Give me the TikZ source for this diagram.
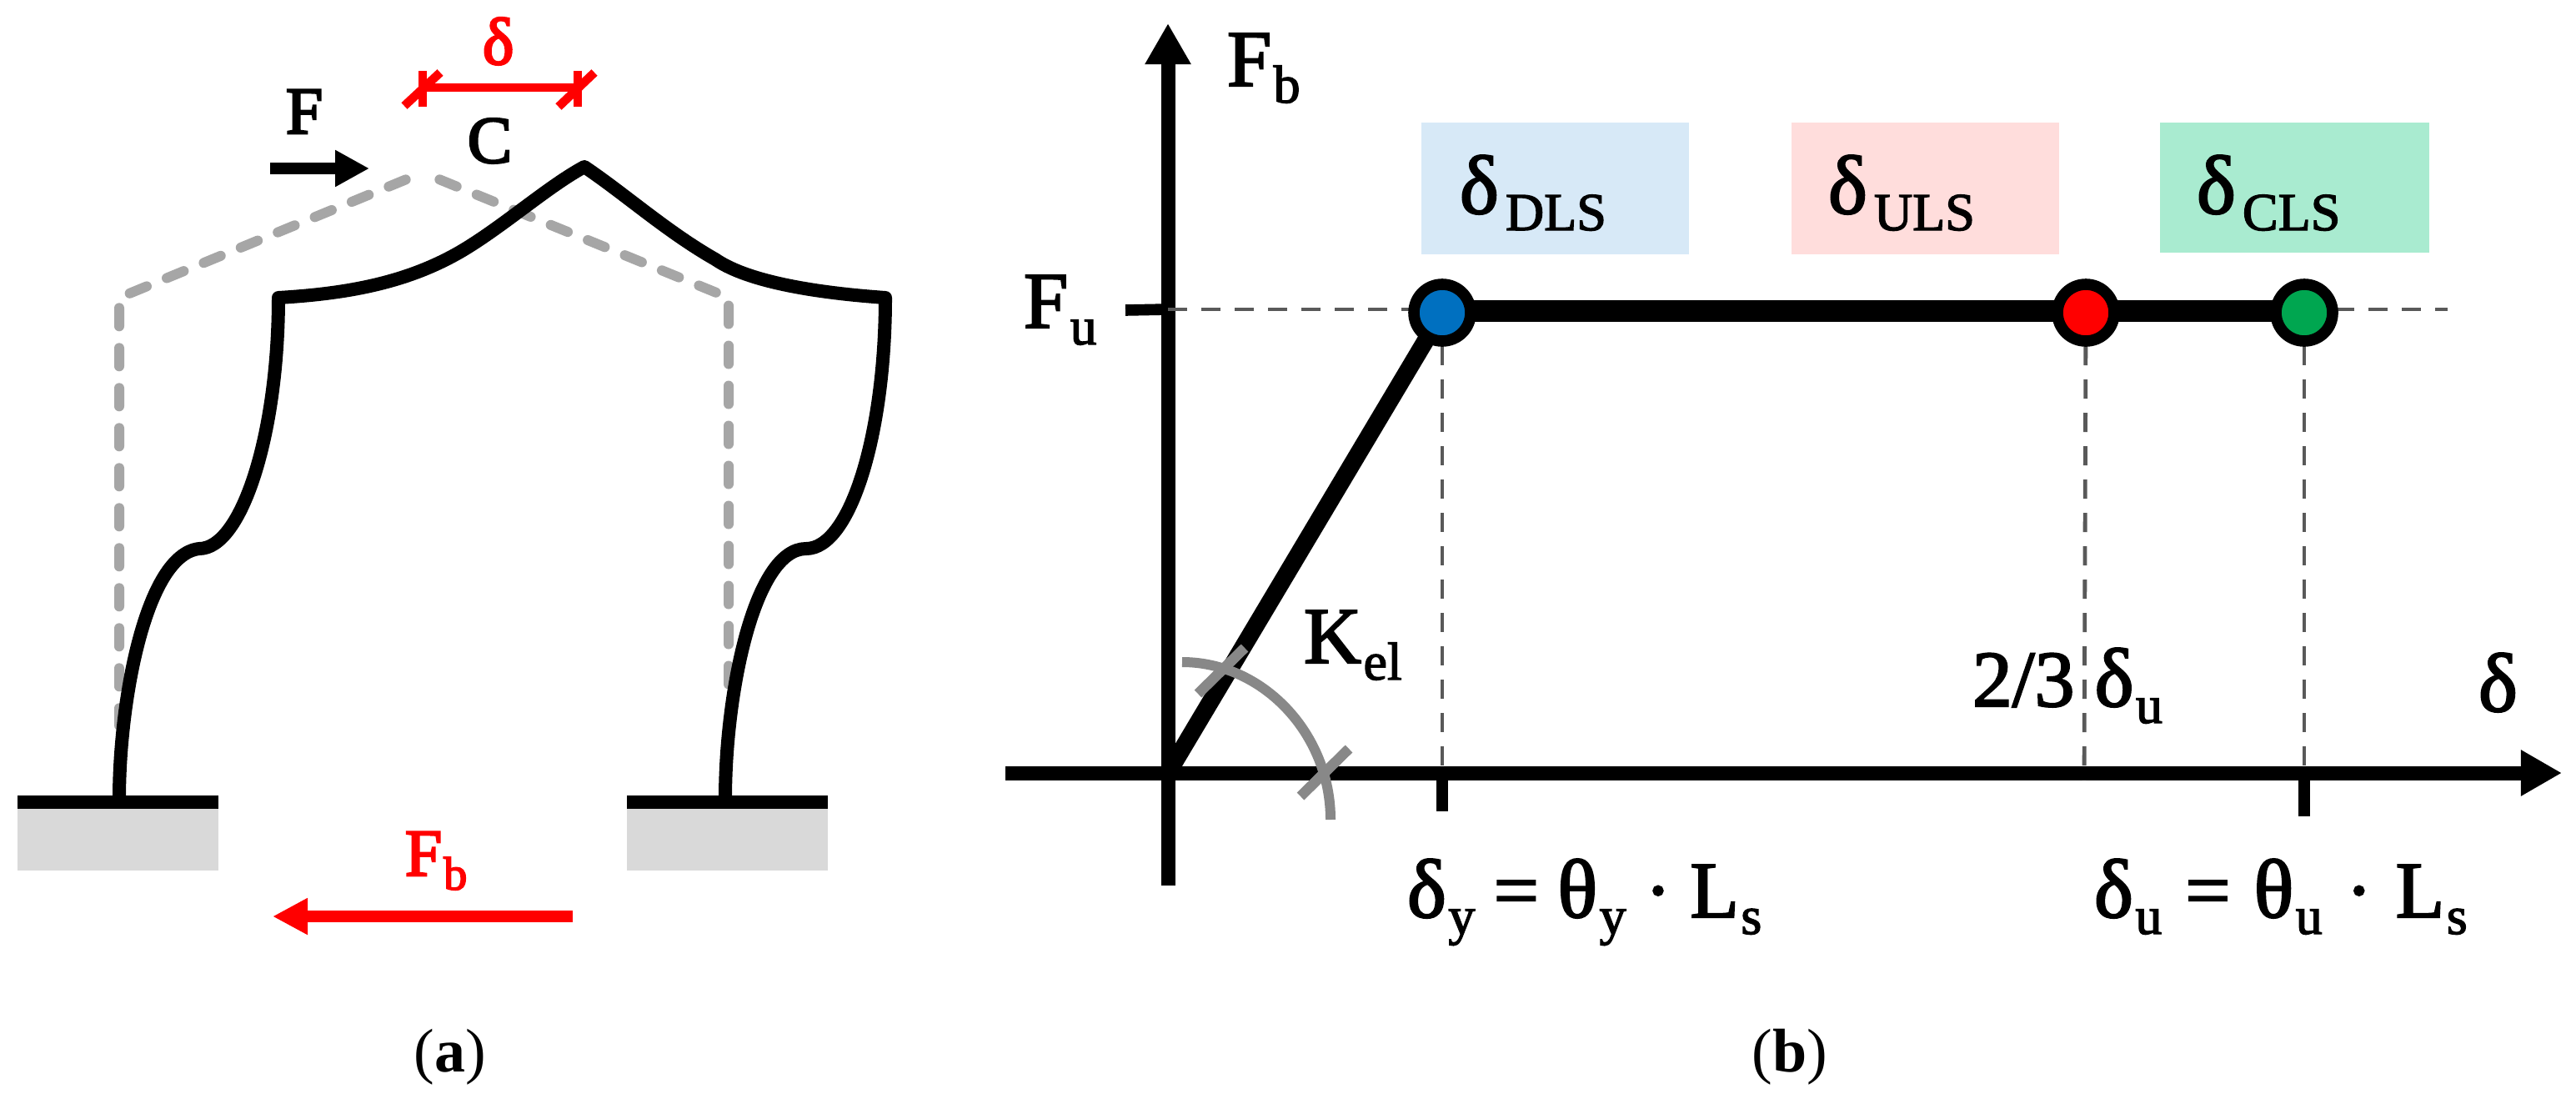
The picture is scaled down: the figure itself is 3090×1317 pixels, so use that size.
\documentclass[tikz,border=0pt]{standalone}
\usepackage{fontspec}
\setmainfont{Liberation Serif}
\newfontfamily\hvb[FakeBold=2.2]{Liberation Serif}
\newfontfamily\hva[FakeBold=3.2]{Liberation Serif}
\usetikzlibrary{arrows.meta}
\definecolor{dlsbg}{HTML}{D7E9F7}
\definecolor{ulsbg}{HTML}{FFDDDC}
\definecolor{clsbg}{HTML}{A9EBD0}
\definecolor{dlspt}{HTML}{0070C0}
\definecolor{ulspt}{HTML}{FF0000}
\definecolor{clspt}{HTML}{00A650}
\definecolor{dashgray}{HTML}{A6A6A6}
\definecolor{groundgray}{HTML}{D9D9D9}
\definecolor{arcgray}{HTML}{888888}
\definecolor{guidegray}{HTML}{595959}
% main-size letters and their subscripts, panel (b)
\newcommand{\gk}[1]{{\fontsize{25}{25}\selectfont #1}}
\newcommand{\subt}[1]{\kern0.6pt\raisebox{-5pt}{\fontsize{16}{16}\selectfont #1}}
\newcommand{\subc}[1]{\kern2pt\raisebox{-5pt}{\fontsize{16}{16}\selectfont #1}}
\newcommand{\subr}[1]{\kern0.5pt\raisebox{-4.2pt}{\fontsize{14}{14}\selectfont #1}}
\newcommand{\wsp}{\hspace{7pt}}
\newcommand{\wsq}{\hspace{5.6pt}}
\tikzset{
  x=0.25pt,y=-0.25pt,
  frameline/.style={line width=4pt,line join=round,line cap=round},
  ghost/.style={line width=3pt,draw=dashgray,dash pattern=on 5.5pt off 6.5pt,dash phase=6.5pt,line join=round,line cap=round},
  groundbar/.style={line width=4.2pt},
  groundblock/.style={fill=groundgray,draw=none},
  axisline/.style={line width=4.25pt,-{Triangle[length=12.3pt,width=13pt]}},
  guide/.style={line width=1.2pt,dash pattern=on 5.75pt off 4.25pt,draw=guidegray},
  tickmark/.style={line width=3.4pt},
  lsbox/.style={draw=none,inner sep=0pt,anchor=north west},
  lspoint/.style={circle,draw=black,line width=3.4pt,minimum size=17pt,inner sep=0pt},
  lab/.style={inner sep=0pt,anchor=base west,font=\hvb\fontsize{24}{24}\selectfont},
  laba/.style={inner sep=0pt,anchor=base west,font=\hva\fontsize{20}{20}\selectfont},
  caplab/.style={inner sep=0pt,anchor=base,font=\fontsize{18.5}{18.5}\selectfont},
  crossmark/.style={line width=3.1pt,draw=arcgray},
}
\begin{document}
\begin{tikzpicture}
\useasboundingbox (0,0) rectangle (3090,1317);
\fill[white] (0,0) rectangle (3090,1317);

% --- panel (a) ---
\coordinate (g1) at (143,870);
\coordinate (g2) at (143,357);
\coordinate (g3) at (507,207);
\coordinate (g4) at (874,357);
\coordinate (g5) at (874,830);
\draw[ghost] (g3) -- (g2) -- (g1);
\draw[ghost] (g3) -- (g4) -- (g5);

\fill[groundblock] (21,965) rectangle (262,1044);
\fill[groundblock] (752,965) rectangle (993,1044);
\coordinate (bl1) at (21,962); \coordinate (bl2) at (262,962);
\coordinate (br1) at (752,962); \coordinate (br2) at (993,962);
\draw[groundbar] (bl1) -- (bl2);
\draw[groundbar] (br1) -- (br2);

\coordinate (c0) at (143,958);
\coordinate (cl) at (239,658);
\coordinate (kl) at (334,357);
\coordinate (top) at (701,200);
\coordinate (kr) at (1062,357);
\coordinate (cr) at (967,658);
\coordinate (c1) at (870,958);
\draw[frameline] (c0)
  .. controls (143,840) and (175,665) .. (cl)
  .. controls (290,658) and (334,520) .. (kl)
  .. controls (420,352) and (495,338) .. (562,296)
  .. controls (610,266) and (660,222) .. (top)
  .. controls (750,233) and (800,278) .. (858,311)
  .. controls (900,340) and (990,352) .. (kr)
  .. controls (1062,520) and (1020,658) .. (cr)
  .. controls (905,658) and (870,830) .. (c1);

\coordinate (fa) at (324,202); \coordinate (fb) at (443,202);
\draw[line width=3.5pt,-{Triangle[length=10.2pt,width=10.3pt]}] (fa) -- (fb);
\node[laba] (nF) at (342,160) {F};
\node[laba] (nC) at (560,195) {C};

\coordinate (da) at (507,105); \coordinate (db) at (693,105);
\draw[red,line width=2.5pt] (da) -- (db);
\coordinate (t1a) at (485,127); \coordinate (t1b) at (528,87);
\coordinate (t2a) at (670,128); \coordinate (t2b) at (713,87);
\coordinate (v1a) at (507,85); \coordinate (v1b) at (507,128);
\coordinate (v2a) at (693,85); \coordinate (v2b) at (693,128);
\draw[red,line width=2.6pt] (t1a) -- (t1b);
\draw[red,line width=2.6pt] (t2a) -- (t2b);
\draw[red,line width=2.6pt] (v1a) -- (v1b);
\draw[red,line width=2.6pt] (v2a) -- (v2b);
\node[laba,text=red] (ndelta) at (578,77) {δ};

\node[laba,text=red] (nFb) at (485,1050) {F\subr{b}};
\coordinate (ra) at (687,1099); \coordinate (rb) at (327,1099);
\draw[red,line width=3.5pt,-{Triangle[length=10.5pt,width=10.3pt]}] (ra) -- (rb);

\node[caplab] (capa) at (540,1285) {(\textbf{a})};

% --- panel (b) ---
\node[lsbox,fill=dlsbg,minimum width=80.25pt,minimum height=39.5pt] (bd) at (1704,146) {};
\node[lsbox,fill=ulsbg,minimum width=80.25pt,minimum height=39.5pt] (bu) at (2148,146) {};
\node[lsbox,fill=clsbg,minimum width=80.75pt,minimum height=39pt] (bc) at (2590,146) {};
\node[lab] (ld) at (1750,256) {\gk{δ}\subc{DLS}};
\node[lab] (lu) at (2192,256) {\gk{δ}\subc{ULS}};
\node[lab] (lc) at (2634,256) {\gk{δ}\subc{CLS}};

\coordinate (o) at (1401,927);
\coordinate (yb) at (1401,1062); \coordinate (yt) at (1401,28);
\coordinate (xl) at (1206,927); \coordinate (xr) at (3073,927);
\coordinate (fu0) at (1401,371); \coordinate (fuend) at (2936,371);
\coordinate (fut) at (1350,372);

\coordinate (pb) at (1730,375);
\coordinate (pr) at (2502,375);
\coordinate (pg) at (2764,375);
\coordinate (tb) at (1730,973); \coordinate (tg) at (2764,979);
\coordinate (ax1) at (1730,920); \coordinate (ax3) at (2764,920);
\coordinate (ax2) at (2500,935);
\coordinate (ax1b) at (1730,927); \coordinate (ax3b) at (2764,927);

\draw[axisline] (yb) -- (yt);
\draw[axisline] (xl) -- (xr);
\draw[tickmark] (fut) -- (fu0);
\draw[tickmark] (ax1b) -- (tb);
\draw[tickmark] (ax3b) -- (tg);

\draw[guide] (fu0) -- (fuend);
\draw[guide] (pb) -- (ax1);
\draw[guide] (pr) -- (ax2);
\draw[guide] (pg) -- (ax3);

\coordinate (l0) at (1730,373);
\coordinate (l1) at (2764,373);
\draw[line width=5.2pt] (o) -- (pb);

\coordinate (arcs) at (1418,794);
\coordinate (arce) at (1596,983);
\draw[line width=3pt,draw=arcgray] (arcs) .. controls (1515,794) and (1596,880) .. (arce);
\coordinate (m1a) at (1437,832); \coordinate (m1b) at (1493,777);
\coordinate (m2a) at (1560,955); \coordinate (m2b) at (1618,898);
\draw[crossmark] (m1a) -- (m1b);
\draw[crossmark] (m2a) -- (m2b);

\draw[line width=6.3pt] (l0) -- (l1);

\node[lspoint,fill=dlspt] (nb) at (pb) {};
\node[lspoint,fill=ulspt] (nr) at (pr) {};
\node[lspoint,fill=clspt] (ng) at (pg) {};

\node[lab] (lFb) at (1471,103) {F\subt{b}};
\node[lab] (lFu) at (1227,393) {F\subt{u}};
\node[lab] (lK) at (1563,795) {K\subt{el}};
\node[lab] (l23) at (2365,847) {2/3 \gk{δ}\subt{u}};
\node[lab] (ldel) at (2972,853) {\gk{δ}};
\node[lab] (ldy) at (1687,1100) {\gk{δ}\subt{y}\wsq=\wsq\gk{θ}\subt{y}\wsq·\wsq L\subt{s}};
\node[lab] (ldu) at (2511,1100) {\gk{δ}\subt{u}\wsp=\wsp\gk{θ}\subt{u}\wsp·\wsp L\subt{s}};
\node[caplab] (capb) at (2147,1285) {(\textbf{b})};
\end{tikzpicture}
\end{document}
